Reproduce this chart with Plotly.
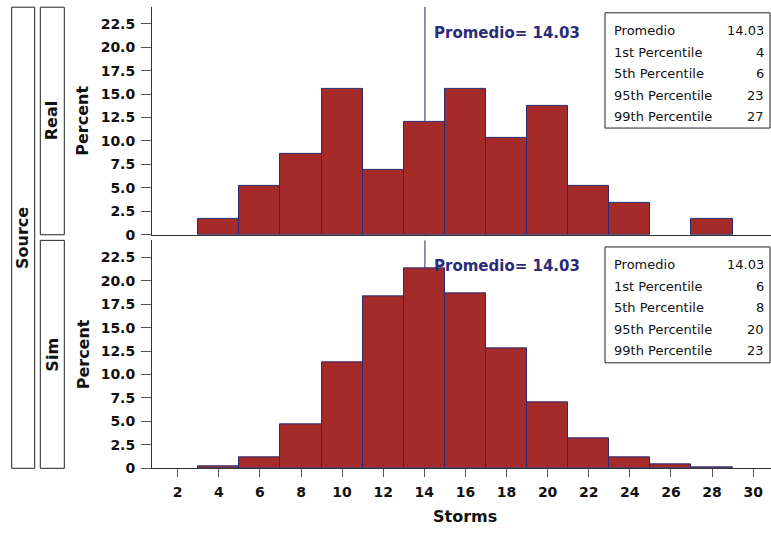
import plotly.graph_objects as go

# ---------------- data ----------------
bin_centers = [4, 6, 8, 10, 12, 14, 16, 18, 20, 22, 24, 26, 28]
bin_width = 2
real_pct = [1.72, 5.17, 8.62, 15.52, 6.90, 12.07, 15.52, 10.34, 13.79, 5.17, 3.45, 0.0, 1.72]
sim_pct = [0.21, 1.19, 4.73, 11.25, 18.30, 21.27, 18.67, 12.79, 7.00, 3.19, 1.19, 0.42, 0.10]
mean_real = 14.03
mean_sim = 14.03
stat_labels = ["Promedio", "1st Percentile", "5th Percentile", "95th Percentile", "99th Percentile"]
real_stats = ["14.03", "4", "6", "23", "27"]
sim_stats = ["14.03", "6", "8", "20", "23"]
x_ticks = list(range(2, 31, 2))
y_tickvals = [0, 2.5, 5, 7.5, 10, 12.5, 15, 17.5, 20, 22.5]
y_ticktext = ["0", "2.5", "5.0", "7.5", "10.0", "12.5", "15.0", "17.5", "20.0", "22.5"]

W, H = 771, 536
BAR = "#A52A2A"
EDGE = "#2B2B72"
NAVY = "#2B2B7A"
AX = "#333333"
FONT = "DejaVu Sans"

def py(p):  # pixel y -> paper
    return 1 - p / H

def px(p):
    return p / W

fig = go.Figure()
panels = [
    ("x", "y", real_pct, mean_real, real_stats, 7.0, 238.3, 13.0, 130.0),
    ("x2", "y2", sim_pct, mean_sim, sim_stats, 244.0, 475.4, 250.7, 368.3),
]

shapes = []
annotations = []
for xa, ya, vals, mean, stats, top, bot, btop, bbot in panels:
    fig.add_trace(go.Bar(
        x=bin_centers, y=vals, width=bin_width, xaxis=xa, yaxis=ya,
        marker=dict(color=BAR, line=dict(color=EDGE, width=[1 if v > 0 else 0 for v in vals])),
        showlegend=False, hoverinfo="x+y"))
    # mean reference line
    shapes.append(dict(type="line", xref=xa, yref=ya + " domain", x0=mean, x1=mean,
                       y0=0, y1=1, line=dict(color=NAVY, width=1), layer="below"))
    annotations.append(dict(xref=xa, yref=ya + " domain", x=mean, xshift=7,
                            y=1 - 26 / (bot - top), xanchor="left", yanchor="middle",
                            text="<b>Promedio= %.2f</b>" % mean, showarrow=False,
                            font=dict(family=FONT, size=15, color=NAVY)))
    # statistics inset box
    shapes.append(dict(type="rect", xref="paper", yref="paper",
                       x0=px(605), x1=px(770), y0=py(bbot), y1=py(btop),
                       line=dict(color="#222222", width=1), fillcolor="white", layer="above"))
    for i, (lab, val) in enumerate(zip(stat_labels, stats)):
        yc = btop + 18 + i * 21.9
        annotations.append(dict(xref="paper", yref="paper", x=px(612), y=py(yc),
                                xanchor="left", yanchor="middle", text=lab, showarrow=False,
                                font=dict(family=FONT, size=13, color="#111111")))
        annotations.append(dict(xref="paper", yref="paper", x=px(766), y=py(yc),
                                xanchor="right", yanchor="middle", text=val, showarrow=False,
                                font=dict(family=FONT, size=13, color="#111111")))
    # y-axis title
    annotations.append(dict(xref="paper", yref="paper", x=px(83), y=py((top + bot) / 2),
                            xanchor="center", yanchor="middle", textangle=-90,
                            text="<b>Percent</b>", showarrow=False,
                            font=dict(family=FONT, size=16, color="#111111")))

# row strip boxes
strips = [("Source", 11.7, 34.7, 7.3, 475.4), ("Real", 40.3, 64.3, 7.3, 238.3), ("Sim", 40.3, 64.3, 244.0, 475.4)]
for name, x0, x1, y0, y1 in strips:
    shapes.append(dict(type="rect", xref="paper", yref="paper", x0=px(x0), x1=px(x1),
                       y0=py(y1), y1=py(y0), line=dict(color="#222222", width=1)))
    annotations.append(dict(xref="paper", yref="paper", x=px((x0 + x1) / 2), y=py((y0 + y1) / 2),
                            xanchor="center", yanchor="middle", textangle=-90,
                            text="<b>%s</b>" % name, showarrow=False,
                            font=dict(family=FONT, size=16, color="#111111")))

annotations.append(dict(xref="paper", yref="paper", x=px(465), y=py(524),
                        xanchor="center", yanchor="middle", text="<b>Storms</b>",
                        showarrow=False, font=dict(family=FONT, size=16, color="#111111")))

xrange = [0.75, 30.87]
yrange = [0, 24.3]
common_x = dict(range=xrange, showgrid=False, zeroline=False, showline=True,
                linecolor=AX, linewidth=1, domain=[px(152), 1])
common_y = dict(range=yrange, showgrid=False, zeroline=False, showline=True,
                linecolor=AX, linewidth=1, ticks="outside", ticklen=10, tickcolor="#555555",
                tickvals=y_tickvals, ticktext=y_ticktext, ticklabelstandoff=3,
                tickfont=dict(family=FONT, size=14, color="#111111", weight="bold"))

fig.update_layout(
    width=W, height=H, autosize=False,
    margin=dict(l=0, r=0, t=0, b=0, pad=0),
    paper_bgcolor="white", plot_bgcolor="white",
    bargap=0,
    xaxis=dict(**common_x, anchor="y", showticklabels=False, ticks=""),
    xaxis2=dict(**common_x, anchor="y2", ticks="outside", ticklen=8, tickcolor="#555555",
                tickvals=x_ticks, ticktext=[str(t) for t in x_ticks], ticklabelstandoff=3,
                tickfont=dict(family=FONT, size=14, color="#111111", weight="bold")),
    yaxis=dict(**common_y, anchor="x", domain=[py(238.3), py(7.0)]),
    yaxis2=dict(**common_y, anchor="x2", domain=[py(475.4), py(244.0)]),
    shapes=shapes,
    annotations=annotations,
)

fig.write_html("out.html", config={"responsive": False})
